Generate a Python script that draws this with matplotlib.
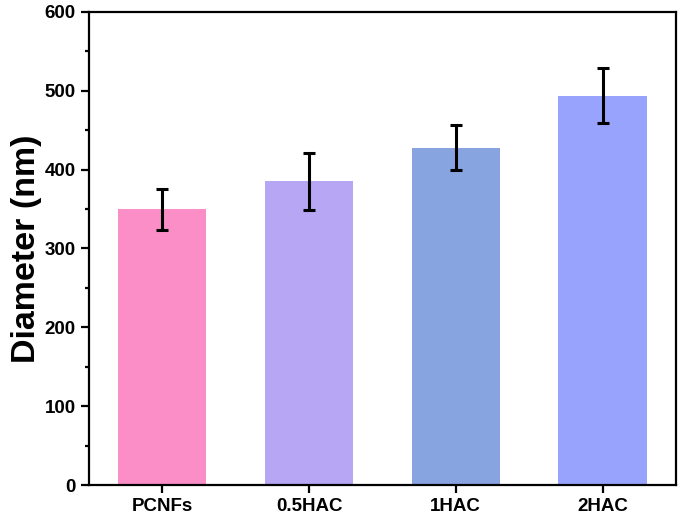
import matplotlib
matplotlib.use("Agg")
import matplotlib.pyplot as plt
from matplotlib.ticker import MultipleLocator

samples = ["PCNFs", "0.5HAC", "1HAC", "2HAC"]
diameter = [350, 385, 428, 494]
diameter_err = [26, 36, 29, 35]
bar_colors = ["#FB8EC7", "#B7A6F3", "#87A4E0", "#97A3FD"]

plt.rcParams["font.family"] = ["Liberation Sans", "DejaVu Sans"]
plt.rcParams["font.weight"] = "bold"

fig = plt.figure(figsize=(6.82, 5.20), dpi=100)
ax = fig.add_axes([0.1305, 0.0673, 0.8605, 0.9097])

x = range(len(samples))
ax.bar(x, diameter, width=0.6, color=bar_colors)
ax.errorbar(x, diameter, yerr=diameter_err, fmt="none", ecolor="black",
            elinewidth=2.2, capsize=4.5, capthick=2.2)

ax.set_xlim(-0.5, 3.5)
ax.set_ylim(0, 600)
ax.yaxis.set_major_locator(MultipleLocator(100))
ax.yaxis.set_minor_locator(MultipleLocator(50))
ax.set_xticks(list(x))
ax.set_xticklabels(samples)

for s in ax.spines.values():
    s.set_linewidth(1.6)

ax.tick_params(axis="both", which="major", direction="out", length=6, width=1.6,
               labelsize=13.5)
ax.tick_params(axis="y", which="minor", direction="out", length=3, width=1.6)
for lab in ax.get_xticklabels() + ax.get_yticklabels():
    lab.set_fontweight("bold")

ax.set_ylabel("Diameter (nm)", fontsize=24.5, fontweight="bold", labelpad=2)

fig.savefig("out.png", dpi=100)
